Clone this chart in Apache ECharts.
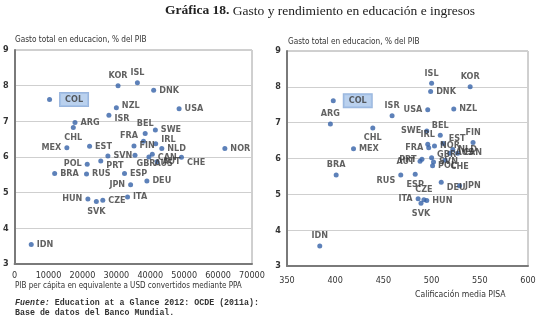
<!DOCTYPE html>
<html>
<head>
<meta charset="utf-8">
<script src="https://cdn.jsdelivr.net/npm/echarts@6/dist/echarts.min.js"></script>
<style>
  html, body { margin: 0; padding: 0; background: #fff; }
  #chart { width: 542px; height: 331px; }
</style>
</head>
<body>
<div id="chart"></div>
<script>
// left panel: GDP per capita (USD PPP) vs spending (% GDP)
const leftCountries = ['COL', 'KOR', 'ISL', 'DNK', 'NZL', 'ISR', 'USA', 'ARG', 'CHL', 'MEX', 'EST', 'BEL', 'SWE', 'FRA', 'IRL', 'FIN', 'NLD', 'CAN', 'NOR', 'SVN', 'GBR', 'AUS', 'AUT', 'CHE', 'POL', 'PRT', 'BRA', 'RUS', 'ESP', 'DEU', 'JPN', 'HUN', 'CZE', 'ITA', 'SVK', 'IDN']
const leftGdp = [10300, 30500, 36200, 41000, 30000, 27800, 48500, 17800, 17300, 15400, 22100, 38500, 41500, 38000, 41600, 35200, 43400, 40600, 62000, 27500, 35500, 39600, 42000, 49200, 21400, 25400, 11800, 21200, 32400, 39000, 34200, 21600, 26000, 33300, 24100, 4900]
const leftSpend = [7.61, 8.0, 8.08, 7.87, 7.38, 7.17, 7.35, 6.97, 6.83, 6.26, 6.3, 6.66, 6.76, 6.44, 6.37, 6.31, 6.24, 6.08, 6.24, 6.03, 6.05, 6.0, 5.87, 5.99, 5.8, 5.89, 5.54, 5.52, 5.54, 5.33, 5.22, 4.82, 4.79, 4.88, 4.75, 3.55]

// right panel: PISA mean score vs spending (% GDP)
const rightCountries = ['ISL', 'KOR', 'DNK', 'COL', 'ISR', 'USA', 'NZL', 'ARG', 'CHL', 'MEX', 'SWE', 'BEL', 'FIN', 'IRL', 'FRA', 'NOR', 'EST', 'NLD', 'AUS', 'CAN', 'GBR', 'PRT', 'AUT', 'SVN', 'CHE', 'POL', 'BRA', 'RUS', 'ESP', 'DEU', 'JPN', 'CZE', 'ITA', 'HUN', 'SVK', 'IDN']
const rightPisa = [500, 540, 499, 398, 459, 496, 523, 395, 439, 419, 495, 509, 543, 496, 497, 503, 512, 522, 519, 527, 500, 490, 488, 502, 514, 501, 401, 468, 483, 510, 529, 492, 486, 495, 489, 384]
const rightSpend = [8.1, 8.0, 7.87, 7.61, 7.19, 7.36, 7.38, 6.96, 6.85, 6.27, 6.77, 6.65, 6.45, 6.4, 6.3, 6.35, 6.42, 6.25, 6.15, 6.15, 6.02, 5.98, 5.92, 5.9, 5.95, 5.8, 5.54, 5.54, 5.56, 5.34, 5.24, 4.85, 4.88, 4.83, 4.75, 3.56]

const yTicks = [3, 4, 5, 6, 7, 8, 9]

// label placement per country (default 'right')
const leftPos = {
  KOR: 'top', ISL: 'top', CHL: 'bottom', MEX: 'left', BEL: 'top', FRA: 'left',
  POL: 'left', JPN: 'left', HUN: 'left', SVK: 'bottom',
}
const leftOffset = { FRA: [0, -6], GBR: [-4, 8], AUS: [0, 7], CHE: [0, 5], PRT: [0, 5], IRL: [0, -4], NZL: [0, -2], ISR: [0, 3], CAN: [0, 4] }
const rightPos = {
  ISL: 'top', KOR: 'top', ISR: 'top', USA: 'left', ARG: 'top', CHL: 'bottom', SWE: 'left',
  BEL: 'top', FIN: 'top', IRL: 'top', FRA: 'left', PRT: 'left', AUT: 'left', BRA: 'top',
  RUS: 'left', ESP: 'bottom', CZE: 'top', ITA: 'left', SVK: 'bottom', IDN: 'top',
}
const rightOffset = { RUS: [0, 6], DEU: [0, 6], CHE: [0, 6], EST: [0, -5], GBR: [0, -3] }

const font = "'Liberation Sans Narrow', 'DejaVu Sans Condensed', sans-serif"
const smallFont = "8.2px 'Liberation Sans Narrow', 'DejaVu Sans Condensed', sans-serif"
const dotColor = '#3562a8'

function points(names, xs, ys, pos, offs) {
  return names.map((n, i) => {
    const label = { position: pos[n] || 'right' }
    if (offs[n]) label.offset = offs[n]
    if (n === 'COL') {
      Object.assign(label, {
        backgroundColor: '#a9c6ea',
        borderColor: '#7fa3d4',
        borderWidth: 1,
        padding: [2, 5],
        distance: 8,
      })
    }
    return { name: n, value: [xs[i], ys[i]], label }
  })
}

function yAxisOpt(gridIndex) {
  return {
    gridIndex,
    min: yTicks[0],
    max: yTicks[yTicks.length - 1],
    interval: 1,
    axisLine: { show: true, lineStyle: { color: '#7a7a7a', width: 2 } },
    axisTick: { show: false },
    axisLabel: { color: '#333', fontSize: 9, fontWeight: 'bold', fontFamily: font, margin: 6 },
    splitLine: { lineStyle: { color: '#cfcfcf', width: 1 } },
  }
}

const chart = echarts.init(document.getElementById('chart'))

chart.setOption({
  animation: false,
  grid: [
    { left: 14, top: 50, width: 238, height: 214, show: true, borderColor: '#a0a0a0', borderWidth: 1 },
    { left: 287, top: 51, width: 241, height: 215, show: true, borderColor: '#a0a0a0', borderWidth: 1 },
  ],
  xAxis: [
    {
      gridIndex: 0,
      min: 0,
      max: 70000,
      interval: 10000,
      axisLine: { lineStyle: { color: '#7a7a7a', width: 2 } },
      axisTick: { show: false },
      axisLabel: { color: '#333', fontSize: 9, fontFamily: font, margin: 7, formatter: (v) => String(v) },
      splitLine: { show: false },
    },
    {
      gridIndex: 1,
      min: 350,
      max: 600,
      interval: 50,
      axisLine: { lineStyle: { color: '#7a7a7a', width: 2 } },
      axisTick: { show: false },
      axisLabel: { color: '#333', fontSize: 9, fontFamily: font, margin: 10 },
      splitLine: { show: false },
    },
  ],
  yAxis: [yAxisOpt(0), yAxisOpt(1)],
  series: [
    {
      type: 'scatter',
      xAxisIndex: 0,
      yAxisIndex: 0,
      symbolSize: 5,
      itemStyle: { color: dotColor },
      label: { show: true, formatter: '{b}', fontSize: 9, fontWeight: 'bold', fontFamily: font, color: '#3a3a3a', distance: 3 },
      data: points(leftCountries, leftGdp, leftSpend, leftPos, leftOffset),
    },
    {
      type: 'scatter',
      xAxisIndex: 1,
      yAxisIndex: 1,
      symbolSize: 5,
      itemStyle: { color: dotColor },
      label: { show: true, formatter: '{b}', fontSize: 9, fontWeight: 'bold', fontFamily: font, color: '#3a3a3a', distance: 3 },
      data: points(rightCountries, rightPisa, rightSpend, rightPos, rightOffset),
    },
  ],
  graphic: [
    {
      type: 'text',
      left: 165,
      top: 4,
      style: {
        text: '{b|Gráfica 18.} Gasto y rendimiento en educación e ingresos',
        font: "13.5px 'Liberation Serif', serif",
        fill: '#222',
        rich: { b: { fontWeight: 'bold', fontFamily: "'Liberation Serif', serif", fontSize: 13.5 } },
      },
    },
    { type: 'text', left: 15, top: 36, style: { text: 'Gasto total en educacion, % del PIB', font: smallFont, fill: '#333' } },
    { type: 'text', left: 288, top: 38, style: { text: 'Gasto total en educacion, % del PIB', font: smallFont, fill: '#333' } },
    {
      type: 'text', left: 15, top: 282,
      style: { text: 'PIB per cápita en equivalente a USD convertidos mediante PPA', font: "8px 'Liberation Sans Narrow', 'DejaVu Sans Condensed', sans-serif", fill: '#333' },
    },
    { type: 'text', left: 415, top: 290, style: { text: 'Calificación media PISA', font: "8.6px 'Liberation Sans Narrow', 'DejaVu Sans Condensed', sans-serif", fill: '#333' } },
    {
      type: 'text', left: 15, top: 298,
      style: {
        text: '{i|Fuente:} Education at a Glance 2012: OCDE (2011a):\nBase de datos del Banco Mundial.',
        font: "bold 8.3px 'Liberation Mono', monospace",
        fill: '#333',
        lineHeight: 10,
        rich: { i: { fontStyle: 'italic', fontWeight: 'bold', fontFamily: "'Liberation Mono', monospace", fontSize: 8.3 } },
      },
    },
  ],
})
</script>
</body>
</html>
